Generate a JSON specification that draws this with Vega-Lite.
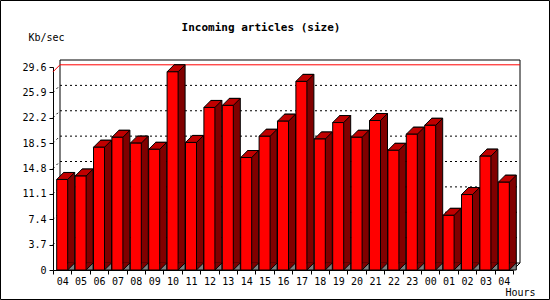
{
  "$schema": "https://vega.github.io/schema/vega-lite/v6.json",
  "width": 460,
  "height": 203,
  "autosize": {"type": "none"},
  "padding": {"left": 53, "top": 67, "right": 37, "bottom": 30},
  "background": "white",
  "config": {
    "view": {"stroke": null},
    "font": "DejaVu Sans Mono",
    "axis": {"labelOverlap": false, "labelBound": false, "labelFlush": false}
  },
  "title": {
    "text": "Incoming articles (size)",
    "font": "DejaVu Sans Mono",
    "fontSize": 11,
    "fontWeight": "bold",
    "color": "black",
    "anchor": "middle",
    "frame": "group",
    "offset": 0,
    "baseline": "middle",
    "dy": 39,
    "dx": -22
  },
  "datasets": {
    "bars": [
      {"hour": "04a", "v": 13.2},
      {"hour": "05", "v": 13.7},
      {"hour": "06", "v": 17.9},
      {"hour": "07", "v": 19.35},
      {"hour": "08", "v": 18.5},
      {"hour": "09", "v": 17.6},
      {"hour": "10", "v": 28.9},
      {"hour": "11", "v": 18.6},
      {"hour": "12", "v": 23.7},
      {"hour": "13", "v": 24.0},
      {"hour": "14", "v": 16.4},
      {"hour": "15", "v": 19.5},
      {"hour": "16", "v": 21.7},
      {"hour": "17", "v": 27.5},
      {"hour": "18", "v": 19.1},
      {"hour": "19", "v": 21.5},
      {"hour": "20", "v": 19.35},
      {"hour": "21", "v": 21.8},
      {"hour": "22", "v": 17.45},
      {"hour": "23", "v": 19.8},
      {"hour": "00", "v": 21.1},
      {"hour": "01", "v": 7.97},
      {"hour": "02", "v": 11.0},
      {"hour": "03", "v": 16.6},
      {"hour": "04b", "v": 12.8}
    ],
    "grid": [
      {"g": 3.7}, {"g": 7.4}, {"g": 11.1}, {"g": 14.8},
      {"g": 18.5}, {"g": 22.2}, {"g": 25.9}
    ],
    "edges": [{"g": 0}, {"g": 29.6}]
  },
  "data": {"name": "bars"},
  "layer": [
    {
      "mark": {"type": "bar", "width": 11, "fill": "#ff0000", "stroke": "black", "strokeWidth": 1, "opacity": 0},
      "encoding": {
        "x": {
          "field": "hour",
          "type": "nominal",
          "scale": {
            "type": "band",
            "domain": ["04a", "05", "06", "07", "08", "09", "10", "11", "12", "13", "14", "15", "16", "17", "18", "19", "20", "21", "22", "23", "00", "01", "02", "03", "04b"],
            "paddingInner": 0,
            "paddingOuter": 0
          },
          "axis": {
            "orient": "bottom",
            "tickBand": "extent",
            "labelExpr": "substring(datum.label, 0, 2)",
            "labelAngle": 0,
            "labelOverlap": false,
            "labelFont": "DejaVu Sans Mono",
            "labelFontSize": 10,
            "labelColor": "black",
            "labelPadding": 2,
            "tickSize": 4,
            "tickColor": "black",
            "domainColor": "black",
            "grid": false,
            "title": "Hours",
            "titleFont": "DejaVu Sans Mono",
            "titleFontSize": 10,
            "titleFontWeight": "normal",
            "titleColor": "black",
            "titleAlign": "left",
            "titleBaseline": "middle",
            "titleX": 452,
            "titleY": 22
          }
        },
        "y": {
          "field": "v",
          "type": "quantitative",
          "scale": {"domain": [0, 29.6], "nice": false, "zero": true},
          "axis": {
            "orient": "left",
            "values": [0, 3.7, 7.4, 11.1, 14.8, 18.5, 22.2, 25.9, 29.6],
            "tickCount": 20,
            "format": ".1~f",
            "labelOverlap": false,
            "labelFont": "DejaVu Sans Mono",
            "labelFontSize": 10,
            "labelColor": "black",
            "labelPadding": 3,
            "tickSize": 4,
            "tickColor": "black",
            "domainColor": "black",
            "grid": false,
            "title": "Kb/sec",
            "titleFont": "DejaVu Sans Mono",
            "titleFontSize": 10,
            "titleFontWeight": "normal",
            "titleColor": "black",
            "titleAngle": 0,
            "titleAlign": "left",
            "titleBaseline": "middle",
            "titleX": -25,
            "titleY": -30
          }
        }
      }
    },
    {
      "data": {"values": [{"frame": "window"}]},
      "mark": {"type": "rect", "fill": null, "stroke": "black", "strokeWidth": 1, "xOffset": -52.5, "x2Offset": 36.5, "yOffset": -66.5, "y2Offset": 29.5},
      "encoding": {
        "x": {"datum": "04a", "bandPosition": 0, "type": "nominal"},
        "x2": {"datum": "04b", "bandPosition": 1},
        "y": {"datum": 29.6, "type": "quantitative"},
        "y2": {"datum": 0}
      }
    },
    {
      "data": {"name": "edges"},
      "mark": {"type": "rule", "color": "black", "strokeWidth": 1, "xOffset": 7, "x2Offset": 7, "yOffset": -7, "y2Offset": -7},
      "encoding": {
        "x": {"datum": "04a", "bandPosition": 0, "type": "nominal"},
        "x2": {"datum": "04b", "bandPosition": 1},
        "y": {"field": "g", "type": "quantitative"}
      }
    },
    {
      "data": {"values": [{"side": "left"}]},
      "mark": {"type": "rule", "color": "black", "strokeWidth": 1, "xOffset": 7, "yOffset": -7, "y2Offset": -7},
      "encoding": {
        "x": {"datum": "04a", "bandPosition": 0, "type": "nominal"},
        "y": {"datum": 0, "type": "quantitative"},
        "y2": {"datum": 29.6}
      }
    },
    {
      "data": {"values": [{"side": "right"}]},
      "mark": {"type": "rule", "color": "black", "strokeWidth": 1, "xOffset": 7, "yOffset": -7, "y2Offset": -7},
      "encoding": {
        "x": {"datum": "04b", "bandPosition": 1, "type": "nominal"},
        "y": {"datum": 0, "type": "quantitative"},
        "y2": {"datum": 29.6}
      }
    },
    {
      "data": {"name": "grid"},
      "mark": {"type": "rule", "color": "black", "strokeWidth": 1, "strokeDash": [2, 3], "xOffset": 7, "x2Offset": 7, "yOffset": -7, "y2Offset": -7},
      "encoding": {
        "x": {"datum": "04a", "bandPosition": 0, "type": "nominal"},
        "x2": {"datum": "04b", "bandPosition": 1},
        "y": {"field": "g", "type": "quantitative"}
      }
    },
    {
      "data": {"name": "grid"},
      "mark": {"type": "rule", "color": "black", "strokeWidth": 1, "strokeDash": [2, 3], "x2Offset": 7, "y2Offset": -7},
      "encoding": {
        "x": {"datum": "04a", "bandPosition": 0, "type": "nominal"},
        "x2": {"datum": "04a", "bandPosition": 0},
        "y": {"field": "g", "type": "quantitative"},
        "y2": {"field": "g"}
      }
    },
    {
      "data": {"values": [{"side": "floor"}]},
      "mark": {"type": "rule", "color": "black", "strokeWidth": 1, "x2Offset": 7, "y2Offset": -7},
      "encoding": {
        "x": {"datum": "04b", "bandPosition": 1, "type": "nominal"},
        "x2": {"datum": "04b", "bandPosition": 1},
        "y": {"datum": 0, "type": "quantitative"},
        "y2": {"datum": 0}
      }
    },
    {
      "transform": [{"aggregate": [{"op": "max", "field": "v", "as": "m"}]}],
      "mark": {"type": "rule", "color": "#ff0000", "strokeWidth": 1, "xOffset": 7, "x2Offset": 7, "yOffset": -7, "y2Offset": -7},
      "encoding": {
        "x": {"datum": "04a", "bandPosition": 0, "type": "nominal"},
        "x2": {"datum": "04b", "bandPosition": 1},
        "y": {"field": "m", "type": "quantitative"}
      }
    },
    {
      "transform": [{"aggregate": [{"op": "max", "field": "v", "as": "m"}]}],
      "mark": {"type": "rule", "color": "#ff0000", "strokeWidth": 1, "x2Offset": 7, "y2Offset": -7},
      "encoding": {
        "x": {"datum": "04a", "bandPosition": 0, "type": "nominal"},
        "x2": {"datum": "04a", "bandPosition": 0},
        "y": {"field": "m", "type": "quantitative"},
        "y2": {"field": "m"}
      }
    },
    {
      "mark": {"type": "bar", "width": 11, "fill": "#800000", "stroke": "black", "strokeWidth": 1, "xOffset": 7, "yOffset": -7, "y2Offset": 0.01},
      "encoding": {
        "x": {"field": "hour", "type": "nominal"},
        "y": {"field": "v", "type": "quantitative"}
      }
    },
    {
      "mark": {"type": "point", "shape": "M 5.5 0.5 L 12.5 -6.5 L 12.5 -7.5 L 5.5 -7.5 Z", "size": 4, "filled": true, "fill": "#800000", "strokeWidth": 0, "opacity": 1},
      "encoding": {
        "x": {"field": "hour", "type": "nominal"},
        "y": {"datum": 0, "type": "quantitative"}
      }
    },
    {
      "mark": {"type": "point", "shape": "M -5.5 0 L 5.5 0 L 12.5 -7 L 1.5 -7 Z", "size": 4, "filled": true, "fill": "#c00000", "stroke": "black", "strokeWidth": 1, "opacity": 1},
      "encoding": {
        "x": {"field": "hour", "type": "nominal"},
        "y": {"field": "v", "type": "quantitative"}
      }
    },
    {
      "mark": {"type": "point", "shape": "M 5.5 0 L 12.5 -7 L 12.5 0 Z", "size": 4, "filled": true, "fill": "#808080", "stroke": "black", "strokeWidth": 1, "opacity": 1},
      "encoding": {
        "x": {"field": "hour", "type": "nominal"},
        "y": {"datum": 0, "type": "quantitative"}
      }
    },
    {
      "mark": {"type": "bar", "width": 11, "fill": "#ff0000", "stroke": "black", "strokeWidth": 1},
      "encoding": {
        "x": {"field": "hour", "type": "nominal"},
        "y": {"field": "v", "type": "quantitative"}
      }
    }
  ]
}
